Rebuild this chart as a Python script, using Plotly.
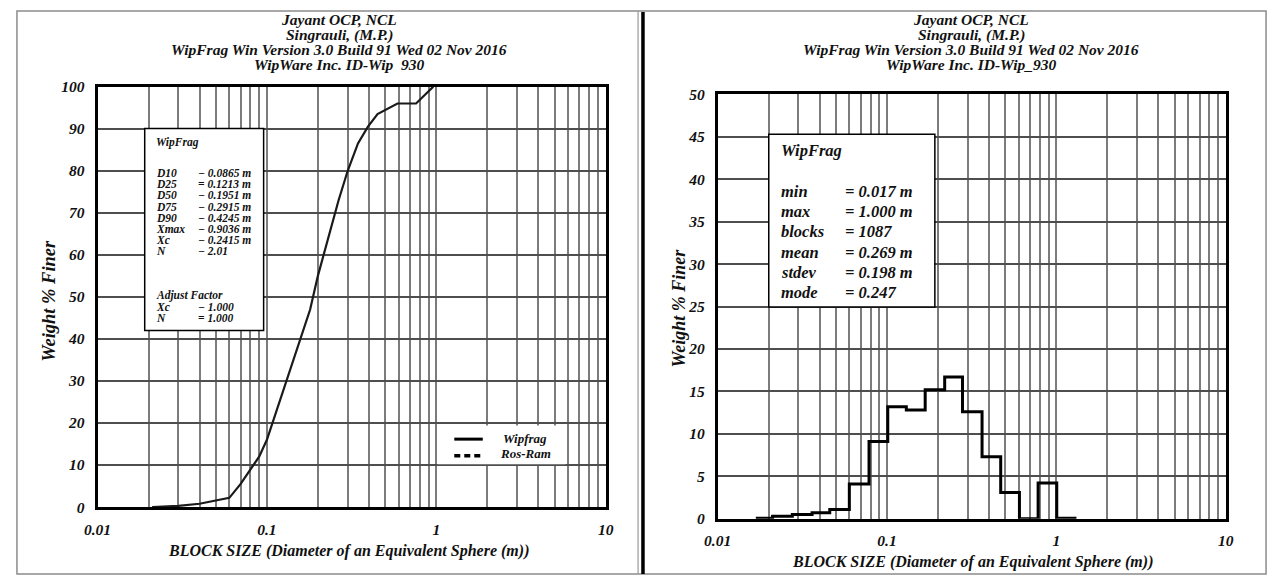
import plotly.graph_objects as go

W, H = 1277, 585

# ---------------- data ----------------
# Left panel: cumulative size distribution (Wipfrag curve)
cum_size = [0.021, 0.03, 0.04, 0.05, 0.06, 0.07, 0.08, 0.09, 0.10, 0.11, 0.125,
            0.14, 0.16, 0.18, 0.20, 0.23, 0.265, 0.30, 0.345, 0.395, 0.45,
            0.59, 0.76, 0.96]
cum_pct = [0, 0.3, 0.8, 1.5, 2.2, 5.5, 9, 12, 16, 21, 28,
           34, 41, 47, 55, 64, 73, 80, 86.5, 90.5, 93.5,
           96, 96, 100]

# Right panel: histogram (bin edges in m, percent per bin)
hist_edges = [0.0168, 0.0211, 0.0276, 0.0361, 0.0459, 0.0599, 0.0783, 0.101,
              0.130, 0.168, 0.219, 0.279, 0.364, 0.469, 0.605, 0.780, 1.005, 1.313]
hist_pct = [0.05, 0.3, 0.5, 0.7, 1.1, 4.1, 9.1, 13.2, 12.8, 15.2, 16.7,
            12.6, 7.3, 3.1, 0.0, 4.2, 0.05]

x_tickvals = [0.01, 0.1, 1, 10]
x_ticktext = ["0.01", "0.1", "1", "10"]
x_minor = [2e-2, 3e-2, 4e-2, 5e-2, 6e-2, 7e-2, 8e-2, 9e-2,
           0.2, 0.3, 0.4, 0.5, 0.6, 0.7, 0.8, 0.9,
           2, 3, 4, 5, 6, 7, 8, 9]

title_lines_left = ["Jayant OCP, NCL", "Singrauli, (M.P.)",
                    "WipFrag Win Version 3.0 Build 91 Wed 02 Nov 2016",
                    "WipWare Inc. ID-Wip  930"]
title_lines_right = ["Jayant OCP, NCL", "Singrauli, (M.P.)",
                     "WipFrag Win Version 3.0 Build 91 Wed 02 Nov 2016",
                     "WipWare Inc. ID-Wip_930"]

left_stat_labels = ["D10", "D25", "D50", "D75", "D90", "Xmax", "Xc", "N"]
left_stat_values = ["\u2212 0.0865 m", "= 0.1213 m", "\u2212 0.1951 m", "\u2212 0.2915 m",
                    "\u2212 0.4245 m", "\u2212 0.9036 m", "\u2212 0.2415 m", "\u2212 2.01"]
adj_labels = ["Xc", "N"]
adj_values = ["\u2212 1.000", "= 1.000"]

right_stat_labels = ["min", "max", "blocks", "mean", "stdev", "mode"]
right_stat_values = ["= 0.017 m", "= 1.000 m", "= 1087", "= 0.269 m", "= 0.198 m", "= 0.247"]

legend_names = ["Wipfrag", "Ros-Ram"]

# ---------------- helpers ----------------
def px(x):
    return x / W

def py(y):
    return 1 - y / H

def F(size, color="#111"):
    return dict(family="Liberation Serif", size=size, color=color,
                weight="bold", style="italic")

XGRID = "#7c7c7c"
YGRID = "#4e4e4e"
GW = 1.8

# plot area pixel boxes
L = dict(x0=85, x1=602, y0=80, y1=513)
R = dict(x0=716, x1=1233, y0=88, y1=525)
dl = -3   # horizontal shift of left-panel overlays
dr = 2    # horizontal shift of right-panel overlays

fig = go.Figure()

fig.add_trace(go.Scatter(x=cum_size, y=cum_pct, mode="lines",
                         line=dict(color="#1a1a1a", width=2.2),
                         xaxis="x", yaxis="y", showlegend=False))

step_x = hist_edges[:-1] + [hist_edges[-1]]
step_y = hist_pct + [hist_pct[-1]]
fig.add_trace(go.Scatter(x=step_x, y=step_y, mode="lines", line_shape="hv",
                         line=dict(color="#000", width=3),
                         xaxis="x2", yaxis="y2", showlegend=False))

def xaxis_cfg(box, anchor, standoff):
    return dict(type="log", range=[-2, 1], domain=[px(box["x0"]), px(box["x1"])],
                anchor=anchor, tickvals=x_tickvals, ticktext=x_ticktext,
                tickfont=F(15.5), ticks="", ticklabelstandoff=standoff,
                showgrid=True, gridcolor=XGRID, gridwidth=GW,
                minor=dict(tickvals=x_minor, showgrid=True, gridcolor=XGRID,
                           gridwidth=GW, ticks=""),
                showline=True, mirror=True, linecolor="#000", linewidth=2.8,
                zeroline=False, fixedrange=True)

def yaxis_cfg(box, anchor, rng, dt):
    return dict(range=rng, domain=[py(box["y1"]), py(box["y0"])], anchor=anchor,
                dtick=dt, tick0=0, tickfont=F(15.5), ticks="", ticklabelstandoff=7,
                showgrid=True, gridcolor=YGRID, gridwidth=GW,
                showline=True, mirror=True, linecolor="#000", linewidth=2.8,
                zeroline=False, fixedrange=True)

fig.update_layout(
    width=W, height=H, margin=dict(l=0, r=0, t=0, b=0),
    paper_bgcolor="white", plot_bgcolor="white",
    xaxis=xaxis_cfg(L, "y", 6), yaxis=yaxis_cfg(L, "x", [0, 100], 10),
    xaxis2=xaxis_cfg(R, "y2", 6), yaxis2=yaxis_cfg(R, "x2", [0, 50], 5),
)

shapes = []
ann = []

# outer frame and separator
shapes.append(dict(type="rect", xref="paper", yref="paper",
                   x0=px(3), x1=px(1274), y0=py(582), y1=py(2),
                   line=dict(color="#8c8c8c", width=1.5)))
shapes.append(dict(type="line", xref="paper", yref="paper",
                   x0=px(635), x1=px(635), y0=py(582), y1=py(2),
                   line=dict(color="#9a9a9a", width=1.2)))
shapes.append(dict(type="line", xref="paper", yref="paper",
                   x0=px(640), x1=px(640), y0=py(582), y1=py(3),
                   line=dict(color="#000", width=3.5)))

# titles
for i, t in enumerate(title_lines_left):
    ann.append(dict(text=t, x=px(331), y=py(11 + 15.5 * i), xref="paper", yref="paper",
                    showarrow=False, xanchor="center", yanchor="middle", font=F(15.5)))
for i, t in enumerate(title_lines_right):
    ann.append(dict(text=t, x=px(974), y=py(11 + 15.5 * i), xref="paper", yref="paper",
                    showarrow=False, xanchor="center", yanchor="middle", font=F(15.5)))

# axis titles
ann.append(dict(text="Weight % Finer", x=px(36), y=py(300), xref="paper", yref="paper",
                showarrow=False, textangle=-90, xanchor="center", yanchor="middle", font=F(18.5)))
ann.append(dict(text="Weight % Finer", x=px(677), y=py(308), xref="paper", yref="paper",
                showarrow=False, textangle=-90, xanchor="center", yanchor="middle", font=F(18)))
ann.append(dict(text="BLOCK SIZE (Diameter of an Equivalent Sphere (m))", x=px(340), y=py(558),
                xref="paper", yref="paper", showarrow=False, xanchor="center",
                yanchor="middle", font=F(16)))
ann.append(dict(text="BLOCK SIZE (Diameter of an Equivalent Sphere (m))", x=px(975), y=py(570),
                xref="paper", yref="paper", showarrow=False, xanchor="center",
                yanchor="middle", font=F(16)))

# left info box
shapes.append(dict(type="rect", xref="paper", yref="paper", layer="above",
                   x0=px(136 + dl), x1=px(257 + dl), y0=py(331), y1=py(123),
                   fillcolor="white", line=dict(color="#000", width=1.5)))
ann.append(dict(text="WipFrag", x=px(145 + dl), y=py(138), xref="paper", yref="paper",
                showarrow=False, xanchor="left", yanchor="middle", font=F(11.5)))
for i, (lab, val) in enumerate(zip(left_stat_labels, left_stat_values)):
    yy = 169 + 11.5 * i
    ann.append(dict(text=lab, x=px(145 + dl), y=py(yy), xref="paper", yref="paper",
                    showarrow=False, xanchor="left", yanchor="middle", font=F(11.5)))
    ann.append(dict(text=val, x=px(188 + dl), y=py(yy), xref="paper", yref="paper",
                    showarrow=False, xanchor="left", yanchor="middle", font=F(11.5)))
ann.append(dict(text="Adjust Factor", x=px(145 + dl), y=py(295), xref="paper", yref="paper",
                showarrow=False, xanchor="left", yanchor="middle", font=F(11.5)))
for i, (lab, val) in enumerate(zip(adj_labels, adj_values)):
    yy = 307 + 11.5 * i
    ann.append(dict(text=lab, x=px(145 + dl), y=py(yy), xref="paper", yref="paper",
                    showarrow=False, xanchor="left", yanchor="middle", font=F(11.5)))
    ann.append(dict(text=val, x=px(188 + dl), y=py(yy), xref="paper", yref="paper",
                    showarrow=False, xanchor="left", yanchor="middle", font=F(11.5)))

# left legend box
shapes.append(dict(type="rect", xref="paper", yref="paper", layer="above",
                   x0=px(434 + dl), x1=px(564 + dl), y0=py(469), y1=py(429),
                   fillcolor="white", line=dict(width=0)))
shapes.append(dict(type="line", xref="paper", yref="paper",
                   x0=px(451 + dl), x1=px(480 + dl), y0=py(443), y1=py(443),
                   line=dict(color="#000", width=3)))
shapes.append(dict(type="line", xref="paper", yref="paper",
                   x0=px(451 + dl), x1=px(480 + dl), y0=py(460), y1=py(460),
                   line=dict(color="#000", width=3.5, dash="6px,4px")))
for i, nm in enumerate(legend_names):
    ann.append(dict(text=nm, x=px(523 + dl), y=py(442 + 16 * i), xref="paper", yref="paper",
                    showarrow=False, xanchor="center", yanchor="middle", font=F(13)))

# right info box
shapes.append(dict(type="rect", xref="paper", yref="paper", layer="above",
                   x0=px(766 + dr), x1=px(935 + dr), y0=py(307), y1=py(129),
                   fillcolor="white", line=dict(color="#000", width=1.5)))
ann.append(dict(text="WipFrag", x=px(776 + dr), y=py(146), xref="paper", yref="paper",
                showarrow=False, xanchor="left", yanchor="middle", font=F(16.5)))
for i, (lab, val) in enumerate(zip(right_stat_labels, right_stat_values)):
    yy = 188 + 20.8 * i
    ann.append(dict(text=lab, x=px(776 + dr), y=py(yy), xref="paper", yref="paper",
                    showarrow=False, xanchor="left", yanchor="middle", font=F(16.5)))
    ann.append(dict(text=val, x=px(842 + dr), y=py(yy), xref="paper", yref="paper",
                    showarrow=False, xanchor="left", yanchor="middle", font=F(16.5)))

fig.update_layout(shapes=shapes, annotations=ann)

fig.write_html("out.html", config={"displayModeBar": False},
               post_script="document.body.style.margin='0';document.body.style.overflow='hidden';")
